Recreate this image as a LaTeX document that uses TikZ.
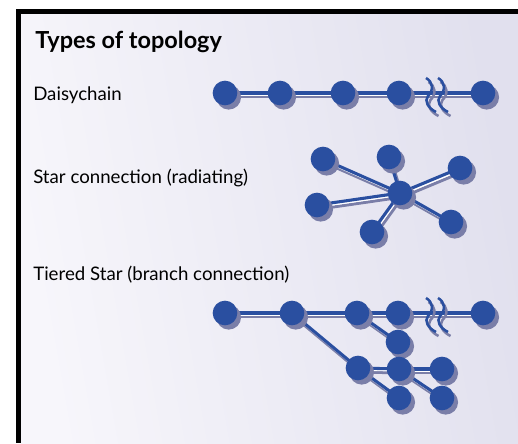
\documentclass[tikz,border=0pt]{standalone}
\usepackage{fontspec}
\setmainfont{Lato}
\usetikzlibrary{shadows}

\definecolor{netblue}{RGB}{42,79,160}
\definecolor{netshade}{RGB}{122,126,168}
\definecolor{paperA}{RGB}{247,246,251}
\definecolor{paperB}{RGB}{225,224,238}

\pgfdeclarelayer{back}
\pgfdeclarelayer{wires}
\pgfsetlayers{back,wires,main}

\tikzset{
  dot/.style={circle, fill=netblue, draw=none, minimum size=18.5pt, inner sep=0pt,
    drop shadow={shadow xshift=2.8pt, shadow yshift=-3.2pt, fill=netshade, opacity=1}},
  wire/.style={draw=netblue, line width=2.3pt},
  wireshade/.style={draw=netshade, line width=2.2pt},
  wiregap/.style={draw=white, line width=1pt},
  lbl/.style={anchor=base west, inner sep=0pt, text=black, font=\fontsize{14}{16}\selectfont},
  ttl/.style={anchor=base west, inner sep=0pt, text=black, font=\fontsize{17.6}{20}\selectfont\bfseries},
  brk/.pic={
    \foreach \dx in {0,12}{
      \draw[netshade, line width=1.9pt, shift={(\dx+2.5,4)}]
        (-2,-15) .. controls (5,-11) and (6,-3) .. (0,3) .. controls (-4,8) and (0,15) .. (8,19);
      \draw[netblue, line width=1.9pt, shift={(\dx,0)}]
        (-2,-15) .. controls (5,-11) and (6,-3) .. (0,3) .. controls (-4,8) and (0,15) .. (8,19);
    }
  }
}

\newcommand\netlinks[1]{%
  \begin{pgfonlayer}{wires}
    \foreach \a/\b in {#1}{\draw[wireshade] ([shift={(2.5,4)}]\a.center) -- ([shift={(2.5,4)}]\b.center);}
    \foreach \a/\b in {#1}{\draw[wiregap] ([shift={(1.2,2)}]\a.center) -- ([shift={(1.2,2)}]\b.center);}
    \foreach \a/\b in {#1}{\draw[wire] (\a.center) -- (\b.center);}
  \end{pgfonlayer}}

\begin{document}
\begin{tikzpicture}[x=0.75pt, y=-0.75pt]
  % page and panel
  \begin{pgfonlayer}{back}
    \fill[white] (0,0) rectangle (518,443);
    \shade[left color=paperA, right color=paperB, shading angle=100] (21,14) rectangle (518,443);
    \fill[black] (16,9) rectangle (518,14);
    \fill[black] (16,9) rectangle (21,443);
  \end{pgfonlayer}
  \useasboundingbox (0,0) rectangle (518,443);

  % headings
  \node[ttl] (title) at (35,48) {Types of topology};
  \node[lbl] (t1) at (33,100) {Daisychain};
  \node[lbl] (t2) at (33,183) {Star connection (radiating)};
  \node[lbl] (t3) at (33,280) {Tiered Star (branch connection)};

  % daisychain
  \node[dot] (d1) at (225,93) {};
  \node[dot] (d2) at (280,93) {};
  \node[dot] (d3) at (343,93) {};
  \node[dot] (d4) at (399,93) {};
  \node[dot] (d5) at (483,93) {};
  \netlinks{d1/d2,d2/d3,d3/d4,d4/d5}
  \begin{pgfonlayer}{wires}
    \pic at (428,93) {brk};
  \end{pgfonlayer}

  % star
  \node[dot] (hub) at (400,193) {};
  \node[dot] (s1) at (323,159) {};
  \node[dot] (s2) at (389,157) {};
  \node[dot] (s3) at (460,168) {};
  \node[dot] (s4) at (317,205) {};
  \node[dot] (s5) at (372,232) {};
  \node[dot] (s6) at (451,222) {};
  \netlinks{s1/hub,s2/hub,s3/hub,s4/hub,s5/hub,s6/hub}

  % tiered star
  \node[dot] (r1) at (225,313) {};
  \node[dot] (r2) at (292,313) {};
  \node[dot] (r3) at (357,313) {};
  \node[dot] (r4) at (398,313) {};
  \node[dot] (r5) at (483,313) {};
  \node[dot] (b1) at (398,342) {};
  \node[dot] (m1) at (358,368) {};
  \node[dot] (m2) at (399,369) {};
  \node[dot] (m3) at (442,369) {};
  \node[dot] (l1) at (399,398) {};
  \node[dot] (l2) at (442,398) {};
  \netlinks{r1/r2,r2/r3,r3/r4,r4/r5,r3/b1,r2/m1,m1/m2,m2/m3,m1/l1,m2/l2}
  \begin{pgfonlayer}{wires}
    \pic at (428,313) {brk};
  \end{pgfonlayer}
\end{tikzpicture}
\end{document}
